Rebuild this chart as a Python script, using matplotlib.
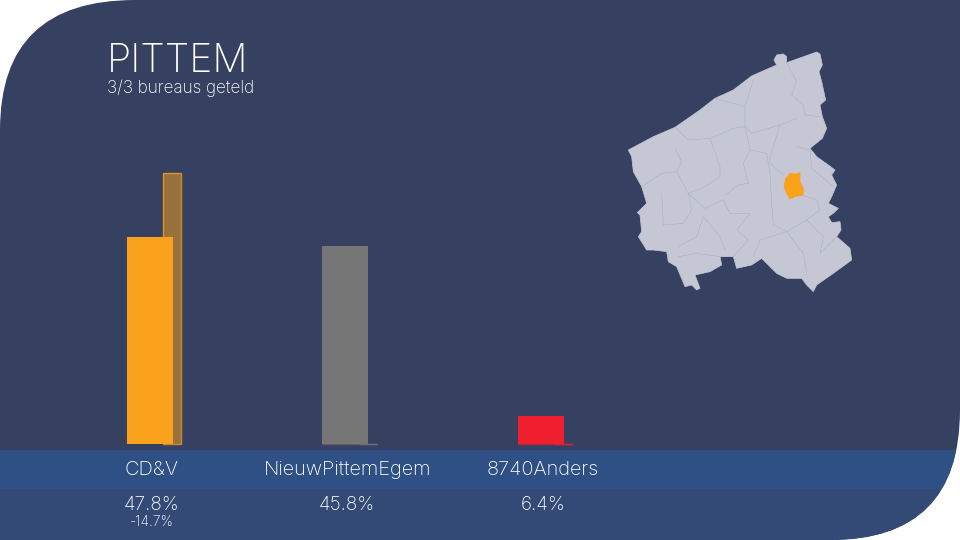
import matplotlib
matplotlib.use("Agg")
import matplotlib.pyplot as plt
from matplotlib.patches import PathPatch, Polygon, Rectangle
from matplotlib.path import Path
from matplotlib.transforms import blended_transform_factory

# ---- data ----
title = "PITTEM"
subtitle = "3/3 bureaus geteld"
parties = ["CD&V", "NieuwPittemEgem", "8740Anders"]
shares = [47.8, 45.8, 6.4]
previous = [62.5, 0.0, 0.0]
delta_labels = ["-14.7%", "", ""]
bar_colors = ["#faa21b", "#767676", "#f01f30"]

# map of West Flanders (3x crop coordinates)
province = [(25,330),(100,290),(165,262),(240,210),(285,175),(340,150),(395,108),(440,88),(470,75),
 (462,60),(470,45),(490,42),(500,50),(500,68),(590,36),(600,42),(607,75),(597,95),(605,125),(617,180),
 (600,195),(607,230),(620,265),(607,295),(570,325),(590,350),(625,375),(645,390),(635,405),(650,435),
 (635,470),(625,490),(655,505),(640,520),(625,530),(635,548),(660,545),(663,570),(650,590),(690,625),
 (695,660),(640,700),(590,735),(580,755),(560,735),(545,715),(500,715),(470,700),(440,670),(425,655),
 (395,675),(350,685),(340,650),(300,650),(305,675),(270,695),(225,705),(240,745),(230,750),(215,735),
 (195,740),(170,680),(145,665),(140,635),(100,630),(80,630),(55,590),(65,575),(60,525),(52,518),
 (80,490),(65,440),(40,395),(35,350)]
municipality = [(510,400),(525,402),(540,398),(540,425),(552,450),(548,465),(525,470),(510,477),
 (500,460),(492,440),(497,415)]
borders = [
 [(500,68),(530,125),(515,165),(550,195),(555,225),(600,230)],
 [(375,200),(375,260),(395,280),(480,255),(530,235)],
 [(375,260),(390,330),(370,370),(385,430),(355,435),(315,465)],
 [(165,325),(185,365),(170,395),(205,460),(255,505),(310,480)],
 [(390,330),(440,340),(450,400),(455,490),(460,555),(500,575),(550,640),(560,700)],
 [(480,255),(450,350),(450,370),(490,405)],
 [(530,320),(570,330),(575,385),(640,440)],
 [(545,465),(590,480),(600,510),(560,540),(500,575),(420,600),(400,650)],
 [(310,480),(330,520),(390,520),(350,570),(385,600),(340,650)],
 [(205,460),(215,510),(190,550),(130,555),(125,460)],
 [(65,440),(125,400),(170,395)],
 [(270,295),(300,380),(300,410),(255,440),(205,460)],
 [(165,262),(205,300),(270,295),(340,265),(375,260)],
 [(285,175),(340,190),(375,200),(400,120)],
 [(175,620),(230,590),(250,530),(300,590),(315,630)],
 [(175,650),(230,640),(300,650)],
 [(560,540),(610,590),(600,640),(650,590)],
]

# ---- colours ----
BG = "#364060"
BAND1 = "#2e5085"
BAND2 = "#324a75"
MAP = "#c5c8d4"
BORDER = "#aeb2c1"
HILITE = "#faa21b"
TEXT = "#ffffff"

W, H = 960, 540
BASE_Y = 444.0      # pixel row of value 0
PX_PER_UNIT = 4.33  # pixels per percentage point
STEP = 195.5        # pixels between categories
CENTER0 = 149.8     # pixel column of the first bar's centre
BAR_W = 46 / STEP
GHOST_W = 18 / STEP
GHOST_OFF = (172.3 - CENTER0) / STEP
GHOST_END = (181.5 - CENTER0) / STEP

plt.rcParams["font.family"] = ["Inter", "Open Sans", "DejaVu Sans"]
fig = plt.figure(figsize=(9.6, 5.4), dpi=100, facecolor="white")

# decorative layer in pixel coordinates
bg = fig.add_axes([0, 0, 1, 1])
bg.set_xlim(0, W); bg.set_ylim(H, 0); bg.axis("off")
verts = [(0, 130), (0, 0), (135, 0), (W, 0), (W, 410), (W, H), (830, H), (0, H), (0, 130)]
codes = [Path.MOVETO, Path.CURVE3, Path.CURVE3, Path.LINETO, Path.LINETO,
         Path.CURVE3, Path.CURVE3, Path.LINETO, Path.CLOSEPOLY]
shape = PathPatch(Path(verts, codes), facecolor=BG, edgecolor="none", zorder=1)
bg.add_patch(shape)
for y0, y1, c in [(450, 489, BAND1), (489, H, BAND2)]:
    r = Rectangle((0, y0), W, y1 - y0, facecolor=c, edgecolor="none", zorder=2)
    bg.add_patch(r)
    r.set_clip_path(shape)

def to_px(points):
    return [(620 + x / 3, 40 + y / 3) for x, y in points]

bg.add_patch(Polygon(to_px(province), closed=True, facecolor=MAP, edgecolor=MAP, lw=0.5, zorder=3))
for line in borders:
    xs, ys = zip(*to_px(line))
    bg.plot(xs, ys, color=BORDER, lw=0.45, zorder=4, solid_capstyle="round")
bg.add_patch(Polygon(to_px(municipality), closed=True, facecolor=HILITE, edgecolor=HILITE, lw=0.5, zorder=5))

# bars layer: data axes spanning the figure, aligned on the reference's scale
ax = fig.add_axes([0, 0, 1, 1])
ax.patch.set_alpha(0)
ax.set_xlim(-CENTER0 / STEP, (W - CENTER0) / STEP)
ax.set_ylim(-(H - BASE_Y) / PX_PER_UNIT, BASE_Y / PX_PER_UNIT)
ax.axis("off")
xpos = list(range(len(parties)))
ghost_x = [x + GHOST_OFF for x in xpos]
ax.bar(ghost_x, previous, width=GHOST_W, color=bar_colors, alpha=0.5, linewidth=0, zorder=2)
ax.bar(ghost_x, previous, width=GHOST_W, facecolor="none", edgecolor=bar_colors,
       linewidth=1, alpha=0.75, zorder=2)
ax.bar(xpos, shares, width=BAR_W, color=bar_colors, linewidth=0, zorder=3)
for x, c, p in zip(xpos, bar_colors, previous):
    if p == 0:
        ax.hlines(0, x - BAR_W / 2, x + GHOST_END, color=c, alpha=0.6, lw=1, zorder=4)

# text
tr = blended_transform_factory(ax.transData, bg.transData)
for x, name, val, d in zip(xpos, parties, shares, delta_labels):
    xt = x + 2 / STEP
    ax.text(xt, 470, name, transform=tr, ha="center", va="center", color=TEXT, fontsize=14.4, fontweight="light")
    ax.text(xt, 505, f"{val:.1f}%", transform=tr, ha="center", va="center", color=TEXT, fontsize=13.7, fontweight="light")
    if d:
        ax.text(xt, 522, d, transform=tr, ha="center", va="center", color=TEXT, fontsize=10, fontweight="light")
bg.text(107, 61, title, ha="left", va="center", color=TEXT, fontsize=28.2, fontweight="light", zorder=6)
bg.text(107, 88, subtitle, ha="left", va="center", color=TEXT, fontsize=12.3, fontweight="light", zorder=6)

fig.savefig("out.png", dpi=100, facecolor="white")
